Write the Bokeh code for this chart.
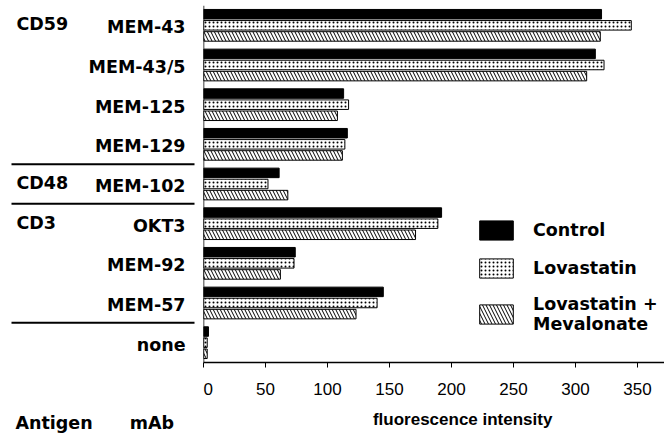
from bokeh.plotting import figure
from bokeh.models import (FactorRange, Range1d, ColumnDataSource, Legend, LegendItem,
                          FixedTicker, Span, LinearAxis)
from bokeh.transform import dodge
from bokeh.layouts import row
from bokeh.embed import file_html
from bokeh.resources import INLINE
from bokeh.core.properties import value

# ---- data ----
mabs = ["MEM-43", "MEM-43/5", "MEM-125", "MEM-129", "MEM-102",
        "OKT3", "MEM-92", "MEM-57", "none"]
control = [321, 316, 113, 116, 61, 192, 74, 145, 4]
lovastatin = [345, 323, 117, 114, 52, 189, 73, 140, 3]
lova_meval = [320, 309, 108, 112, 68, 171, 62, 123, 3]
antigen_labels = ["CD59", "CD48", "CD3"]
antigen_first_mab = ["MEM-43", "MEM-102", "OKT3"]
separator_after = ["MEM-129", "MEM-102", "MEM-57"]
x_ticks = [0, 50, 100, 150, 200, 250, 300, 350]
series_names = ["Control", "Lovastatin", "Lovastatin +\nMevalonate"]
x_title = "fluorescence intensity"
left_titles = ["Antigen", "mAb"]

BOLD = "DejaVu Sans"
BFS = "17.5px"
H = 436
TOP = 5
BOTTOM = 74

src = ColumnDataSource(dict(mab=mabs, control=control, lovastatin=lovastatin,
                            lova_meval=lova_meval))
yr = FactorRange(factors=list(reversed(mabs)))


def style_blank_axis(ax):
    ax.axis_line_color = None
    ax.major_tick_line_color = None
    ax.minor_tick_line_color = None


# ---- left panel: labels ----
left = figure(width=203, height=H, y_range=yr, x_range=Range1d(0, 203),
              output_backend="svg", toolbar_location=None,
              min_border_left=0, min_border_right=0, min_border_top=TOP,
              min_border_bottom=BOTTOM, x_axis_location=None, y_axis_location=None)
left.grid.visible = False
left.outline_line_color = None

left.text(x=185, y="mab", text="mab", source=src, text_font=value(BOLD),
          text_font_style="bold", text_font_size=BFS, text_align="right",
          text_baseline="middle", y_offset=2, text_color="black")
gsrc = ColumnDataSource(dict(lab=antigen_labels, mab=antigen_first_mab))
left.text(x=16, y="mab", text="lab", source=gsrc, text_font=value(BOLD),
          text_font_style="bold", text_font_size=BFS, text_align="left",
          text_baseline="middle", y_offset=-1, text_color="black")
ssrc = ColumnDataSource(dict(mab=separator_after))
left.segment(x0=11, x1=194, y0=dodge("mab", -0.5, range=yr),
             y1=dodge("mab", -0.5, range=yr), source=ssrc,
             line_color="black", line_width=2)

# spacer axis
la1 = LinearAxis(ticker=FixedTicker(ticks=[100]),
                 major_label_overrides={100: " "})
style_blank_axis(la1)
la1.major_tick_in = 0
la1.major_tick_out = 5
la1.major_label_standoff = 22
la1.major_label_text_font = "Liberation Sans"
la1.major_label_text_font_size = "17px"
left.add_layout(la1, "below")

la2 = LinearAxis(ticker=FixedTicker(ticks=[53.5, 151.5]),
                 major_label_overrides={53.5: left_titles[0], 151.5: left_titles[1]})
style_blank_axis(la2)
la2.major_tick_in = 0
la2.major_tick_out = 0
la2.major_label_standoff = 1
la2.major_label_text_font = BOLD
la2.major_label_text_font_style = "bold"
la2.major_label_text_font_size = BFS
la2.major_label_text_color = "black"
left.add_layout(la2, "below")

# ---- right panel: bars ----
p = figure(width=461, height=H, y_range=yr, x_range=Range1d(0, 461 / 1.24),
           output_backend="svg", toolbar_location=None,
           min_border_left=0, min_border_right=0, min_border_top=TOP,
           min_border_bottom=BOTTOM, x_axis_location=None, y_axis_location=None)
p.grid.visible = False
p.outline_line_color = None

bh = 0.24
r1 = p.hbar(y=dodge("mab", 0.28, range=yr), right="control", left=0, height=bh,
            source=src, fill_color="black", line_color="black", line_width=1)
r2 = p.hbar(y=dodge("mab", 0.0, range=yr), right="lovastatin", left=0, height=bh,
            source=src, fill_color="white", line_color="black", line_width=1,
            hatch_pattern="dot", hatch_color="black", hatch_scale=4,
            hatch_weight=1)
r3 = p.hbar(y=dodge("mab", -0.28, range=yr), right="lova_meval", left=0, height=bh,
            source=src, fill_color="white", line_color="black", line_width=1,
            hatch_pattern="left_diagonal_line", hatch_color="black",
            hatch_scale=7, hatch_weight=1)

p.add_layout(Span(location=0, dimension="height", line_color="black",
                  line_width=1.5))

xa = LinearAxis(ticker=FixedTicker(ticks=x_ticks))
xa.axis_line_width = 1.5
xa.major_tick_in = 0
xa.major_tick_out = 5
xa.minor_tick_line_color = None
xa.major_label_text_font = "Liberation Sans"
xa.major_label_text_font_size = "17px"
xa.major_label_standoff = 15
xa.major_label_text_color = "black"
p.add_layout(xa, "below")

xt_pos = 209
xa2 = LinearAxis(ticker=FixedTicker(ticks=[xt_pos]),
                 major_label_overrides={xt_pos: x_title})
style_blank_axis(xa2)
xa2.major_tick_in = 0
xa2.major_tick_out = 0
xa2.major_label_standoff = 12
xa2.major_label_text_font = "Liberation Sans"
xa2.major_label_text_font_style = "bold"
xa2.major_label_text_font_size = "17px"
xa2.major_label_text_color = "black"
p.add_layout(xa2, "below")

legend = Legend(items=[LegendItem(label=series_names[0], renderers=[r1]),
                       LegendItem(label=series_names[1], renderers=[r2]),
                       LegendItem(label=series_names[2], renderers=[r3])],
                location=(272, 28), glyph_width=42, glyph_height=24,
                label_standoff=16, spacing=14, padding=0, margin=0,
                border_line_color=None, background_fill_alpha=0,
                label_text_font=BOLD, label_text_font_style="bold",
                label_text_font_size=BFS, label_text_color="black")
p.add_layout(legend)

layout = row(left, p)
open("out.html", "w").write(file_html(layout, INLINE))
